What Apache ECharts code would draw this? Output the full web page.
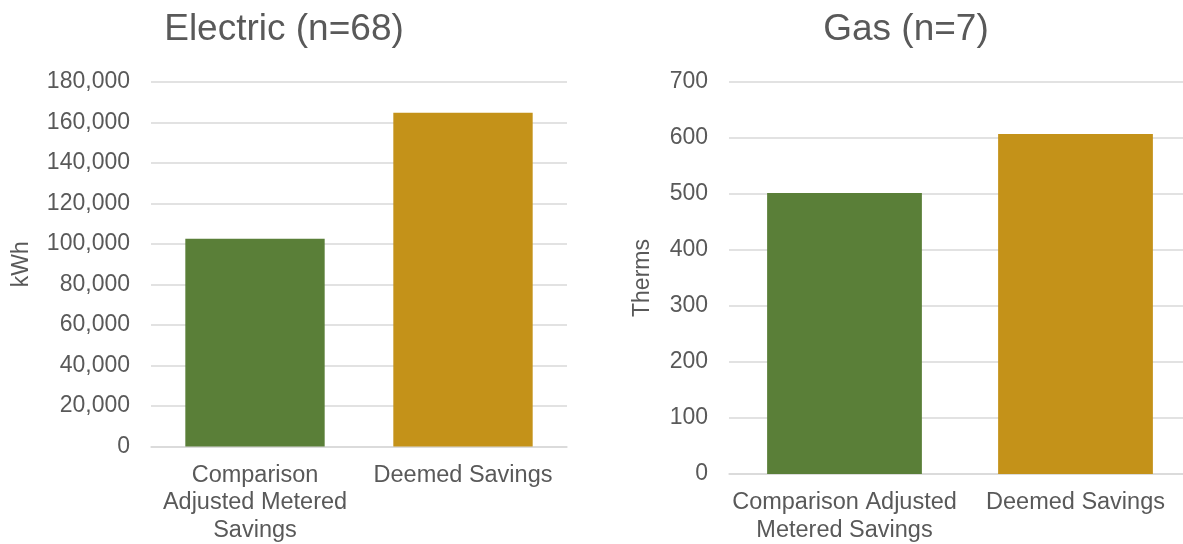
<!DOCTYPE html>
<html>
<head>
<meta charset="utf-8">
<script src="https://cdn.jsdelivr.net/npm/echarts@6/dist/echarts.min.js"></script>
<style>html,body{margin:0;padding:0;background:#fff;overflow:hidden}#c{width:1195px;height:544px}</style>
</head>
<body>
<div id="c"></div>
<script>
const categories = ['Comparison Adjusted Metered Savings', 'Deemed Savings'];
const electricValues = [102600, 164800];
const gasValues = [502, 607];
const electricTicks = [0, 180000, 20000];
const gasTicks = [0, 700, 100];
const electricTitle = 'Electric (n=68)';
const gasTitle = 'Gas (n=7)';
const barColors = ['#5a7f38', '#c49219'];

const electricWrap = {
  'Comparison Adjusted Metered Savings': 'Comparison\nAdjusted Metered\nSavings'
};
const gasWrap = {
  'Comparison Adjusted Metered Savings': 'Comparison Adjusted\nMetered Savings'
};

const font = 'Liberation Sans, Arial, sans-serif';
const txt = '#595959';

function xAx(idx, wrap) {
  return {
    type: 'category', gridIndex: idx, data: categories,
    axisLine: { lineStyle: { color: '#d9d9d9', width: 1.5 } },
    axisTick: { show: false },
    axisLabel: {
      color: txt, fontFamily: font, fontSize: 23.5, lineHeight: 27.5, margin: 15,
      interval: 0, formatter: v => wrap[v] || v
    }
  };
}
function yAx(idx, t, name, gap, fmt) {
  return {
    type: 'value', gridIndex: idx, min: t[0], max: t[1], interval: t[2],
    name: name, nameLocation: 'middle', nameGap: gap, nameRotate: 90,
    nameTextStyle: { color: txt, fontFamily: font, fontSize: 23 },
    axisLine: { show: false }, axisTick: { show: false },
    splitLine: { lineStyle: { color: '#d9d9d9', width: 1.5 } },
    axisLabel: { color: txt, fontFamily: font, fontSize: 23, margin: 21, formatter: fmt }
  };
}
const chart = echarts.init(document.getElementById('c'));
chart.setOption({
  animation: false,
  title: [
    { text: electricTitle, left: 284, top: 11, textAlign: 'center', padding: 0,
      textStyle: { color: txt, fontFamily: font, fontSize: 37, fontWeight: 'normal' } },
    { text: gasTitle, left: 906, top: 11, textAlign: 'center', padding: 0,
      textStyle: { color: txt, fontFamily: font, fontSize: 37, fontWeight: 'normal' } }
  ],
  grid: [
    { left: 151, top: 82, width: 416, height: 365 },
    { left: 729, top: 82, width: 462, height: 393 }
  ],
  xAxis: [xAx(0, electricWrap), xAx(1, gasWrap)],
  yAxis: [
    yAx(0, electricTicks, 'kWh', 118, v => v.toLocaleString('en-US')),
    yAx(1, gasTicks, 'Therms', 75, v => String(v))
  ],
  series: [
    { type: 'bar', xAxisIndex: 0, yAxisIndex: 0, barWidth: '67%',
      data: electricValues.map((v, i) => ({ value: v, itemStyle: { color: barColors[i] } })) },
    { type: 'bar', xAxisIndex: 1, yAxisIndex: 1, barWidth: '67%',
      data: gasValues.map((v, i) => ({ value: v, itemStyle: { color: barColors[i] } })) }
  ]
});
</script>
</body>
</html>
